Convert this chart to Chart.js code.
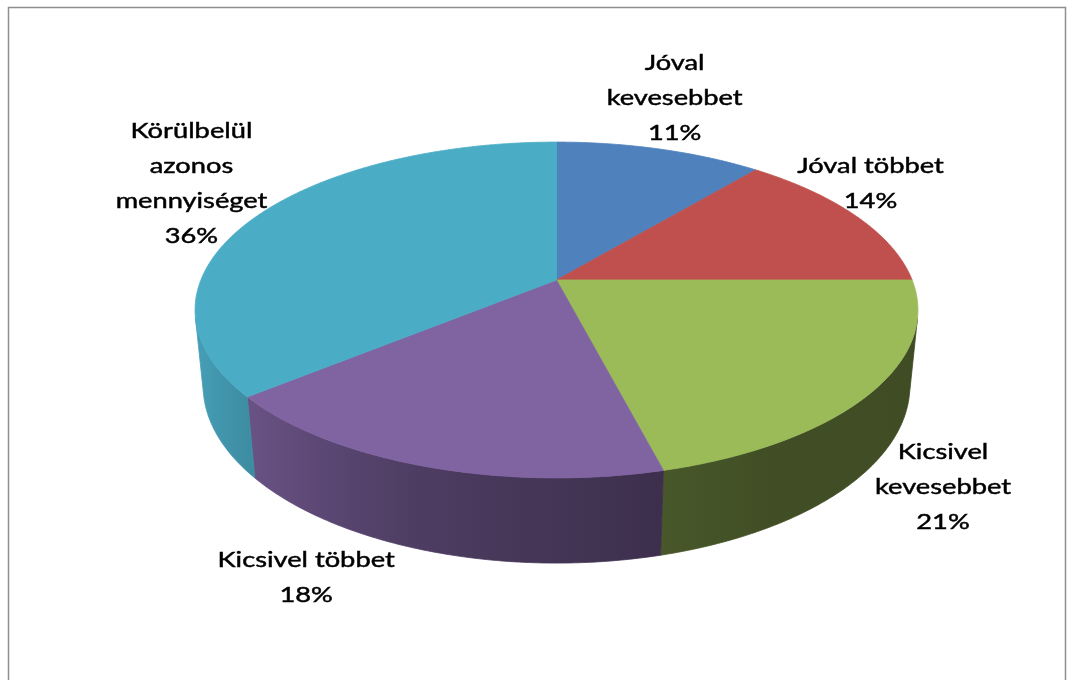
<!DOCTYPE html>
<html>
<head>
<meta charset="utf-8">
<script src="https://cdn.jsdelivr.net/npm/chart.js@4.4.1/dist/chart.umd.min.js"></script>
<style>
  html, body { margin: 0; padding: 0; background: #ffffff; }
  #wrap { width: 1073px; height: 680px; }
</style>
</head>
<body>
<div id="wrap"><canvas id="c" width="1073" height="680"></canvas></div>
<script>
// Answer categories, clockwise from 12 o'clock
const categories = [
  'Jóval kevesebbet',
  'Jóval többet',
  'Kicsivel kevesebbet',
  'Kicsivel többet',
  'Körülbelül azonos mennyiséget'
];
// Share of answers (%)
const shares = [11, 14, 21, 18, 36];
// How each category name is broken into label lines
const labelLines = [
  ['Jóval', 'kevesebbet'],
  ['Jóval többet'],
  ['Kicsivel', 'kevesebbet'],
  ['Kicsivel többet'],
  ['Körülbelül', 'azonos', 'mennyiséget']
];

const sliceColors = ['#4F81BD', '#C0504D', '#9BBB59', '#8064A2', '#4BACC6'];

// Label block offsets from the rim point at each slice's middle angle
const labelOffsets = [[15, -52], [15, -33], [71, 95], [-118, 111], [-66, -33]];

// Perspective camera for the tilted disc (radius 1 in world units)
const view = { tiltDeg: 27.2, dist: 4.98, focal: 1771, thickness: 0.241 };
const sinT = Math.sin(view.tiltDeg * Math.PI / 180);
const cosT = Math.cos(view.tiltDeg * Math.PI / 180);

function project(angle, cx, cy, bottom) {
  const u = Math.cos(angle), v = Math.sin(angle);
  const Y = bottom ? -view.thickness : 0;
  const d = view.dist - Y * sinT - v * cosT;
  return {
    x: cx + view.focal * u / d,
    y: cy + view.focal * (-Y * cosT + v * sinT) / d
  };
}

// Side-wall brightness against the angle (degrees, 0 = 3 o'clock, clockwise)
const shadeStops = [[13, 0.40], [60, 0.42], [76, 0.47], [108, 0.60], [138, 0.81], [155, 0.90], [167, 0.93]];
function shadeAt(deg) {
  if (deg <= shadeStops[0][0]) return shadeStops[0][1];
  for (let i = 1; i < shadeStops.length; i++) {
    const [a1, f1] = shadeStops[i - 1], [a2, f2] = shadeStops[i];
    if (deg <= a2) return f1 + (f2 - f1) * (deg - a1) / (a2 - a1);
  }
  return shadeStops[shadeStops.length - 1][1];
}
function shadeColor(hex, f) {
  const n = parseInt(hex.slice(1), 16);
  const r = Math.round(((n >> 16) & 255) * f);
  const g = Math.round(((n >> 8) & 255) * f);
  const b = Math.round((n & 255) * f);
  return `rgb(${r},${g},${b})`;
}

function sampleAngles(a1, a2) {
  const steps = Math.max(2, Math.ceil((a2 - a1) / (Math.PI / 360)));
  const out = [];
  for (let k = 0; k <= steps; k++) out.push(a1 + (a2 - a1) * k / steps);
  return out;
}

const pie3d = {
  id: 'pie3d',
  beforeDraw(chart) {
    const ctx = chart.ctx;
    ctx.save();
    ctx.fillStyle = '#ffffff';
    ctx.fillRect(0, 0, chart.width, chart.height);
    ctx.strokeStyle = '#8f8f8f';
    ctx.lineWidth = 1.5;
    ctx.strokeRect(8.5, 7.5, 1057, 700);
    ctx.restore();
  },
  beforeDatasetsDraw(chart) {
    const ctx = chart.ctx;
    const arcs = chart.getDatasetMeta(0).data;
    const cx = arcs[0].x, cy = arcs[0].y;
    // the wall faces the camera where sin(angle) exceeds this
    const aMin = Math.asin(1 / (view.dist * cosT));
    const aMax = Math.PI - aMin;
    const xRight = project(aMin, cx, cy, false).x;
    const xLeft = project(aMax, cx, cy, false).x;

    ctx.save();
    // side walls
    arcs.forEach((arc, i) => {
      const lo = Math.max(arc.startAngle, aMin);
      const hi = Math.min(arc.endAngle, aMax);
      if (hi <= lo) return;
      const angs = sampleAngles(lo, hi);
      const grad = ctx.createLinearGradient(xRight, 0, xLeft, 0);
      for (let deg = 13; deg <= 167; deg += 6) {
        const a = deg * Math.PI / 180;
        const t = (xRight - project(a, cx, cy, false).x) / (xRight - xLeft);
        grad.addColorStop(Math.min(1, Math.max(0, t)), shadeColor(sliceColors[i], shadeAt(deg)));
      }
      ctx.beginPath();
      angs.forEach((a, k) => {
        const p = project(a, cx, cy, false);
        if (k === 0) ctx.moveTo(p.x, p.y); else ctx.lineTo(p.x, p.y);
      });
      for (let k = angs.length - 1; k >= 0; k--) {
        const p = project(angs[k], cx, cy, true);
        ctx.lineTo(p.x, p.y);
      }
      ctx.closePath();
      ctx.fillStyle = grad;
      ctx.strokeStyle = grad;
      ctx.lineWidth = 0.8;
      ctx.fill();
      ctx.stroke();
    });

    // top faces
    arcs.forEach((arc, i) => {
      ctx.beginPath();
      ctx.moveTo(cx, cy);
      sampleAngles(arc.startAngle, arc.endAngle).forEach(a => {
        const p = project(a, cx, cy, false);
        ctx.lineTo(p.x, p.y);
      });
      ctx.closePath();
      ctx.fillStyle = sliceColors[i];
      ctx.strokeStyle = sliceColors[i];
      ctx.lineWidth = 0.8;
      ctx.lineJoin = 'round';
      ctx.fill();
      ctx.stroke();
    });
    ctx.restore();
    return false;
  },
  afterDraw(chart) {
    const ctx = chart.ctx;
    const arcs = chart.getDatasetMeta(0).data;
    const cx = arcs[0].x, cy = arcs[0].y;
    const values = chart.data.datasets[0].data;
    const total = values.reduce((s, v) => s + v, 0);
    const lineH = 35;
    ctx.save();
    ctx.font = '21px Lato, "Open Sans", sans-serif';
    ctx.fillStyle = '#000000';
    ctx.strokeStyle = '#000000';
    ctx.lineWidth = 0.45;
    ctx.textAlign = 'center';
    ctx.textBaseline = 'alphabetic';
    const stretch = 136 / ctx.measureText('kevesebbet').width;
    arcs.forEach((arc, i) => {
      const mid = (arc.startAngle + arc.endAngle) / 2;
      const rim = project(mid, cx, cy, false);
      const bx = rim.x + labelOffsets[i][0];
      const by = rim.y + labelOffsets[i][1];
      const lines = labelLines[i].concat([Math.round(values[i] / total * 100) + '%']);
      const top = by - (lines.length - 1) * lineH / 2;
      lines.forEach((txt, j) => {
        ctx.save();
        ctx.translate(bx, top + j * lineH + 7.5);
        ctx.scale(stretch, 1);
        ctx.fillText(txt, 0, 0);
        ctx.strokeText(txt, 0, 0);
        ctx.restore();
      });
    });
    ctx.restore();
  }
};

new Chart(document.getElementById('c'), {
  type: 'pie',
  data: {
    labels: categories,
    datasets: [{ data: shares, backgroundColor: sliceColors, borderWidth: 0 }]
  },
  options: {
    responsive: false,
    devicePixelRatio: 1,
    animation: false,
    layout: { padding: { left: 60, right: 20, top: 20, bottom: 140 } },
    plugins: { legend: { display: false }, tooltip: { enabled: false } }
  },
  plugins: [pie3d]
});
</script>
</body>
</html>
